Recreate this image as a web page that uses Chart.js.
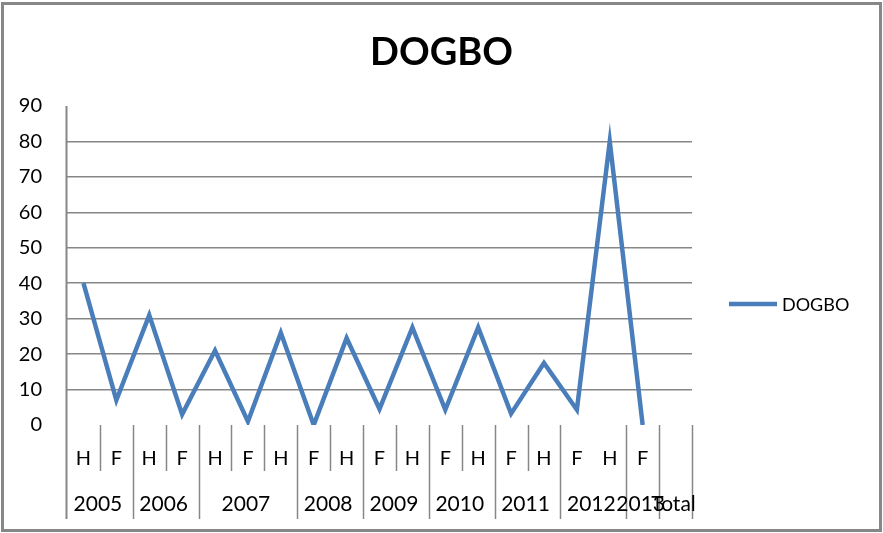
<!DOCTYPE html>
<html><head><meta charset="utf-8">
<script src="https://cdn.jsdelivr.net/npm/chart.js@4/dist/chart.umd.min.js"></script>
<style>html,body{margin:0;padding:0;background:#fff}#wrap{width:883px;height:533px}</style>
</head><body><div id="wrap"><canvas id="c" width="883" height="533"></canvas></div>
<script>
const chartTitle = 'DOGBO';
const seriesName = 'DOGBO';
const halfLabels = ['H','F','H','F','H','F','H','F','H','F','H','F','H','F','H','F','H','F',''];
const values = [40,7,31,3,21,1,26,0,24.5,4.5,27.5,4.3,27.5,3.2,17.5,4.3,80,0,null];
const yearLabels = ['2005','2006','2007','2008','2009','2010','2011','2012','2013','Total'];
const yearSpans = [2,2,3,2,2,2,2,2,1,1];
const yMin = 0, yMax = 90, yStep = 10;

const GREY = '#878787';
const BLUE = '#4A7EBB';
const FONT = 'Lato, "Liberation Sans", Arial, sans-serif';

const decor = {
  id: 'decor',
  afterDraw(chart) {
    const ctx = chart.ctx;
    const xs = chart.scales.x, ys = chart.scales.y;
    const ca = chart.chartArea;
    const half = (xs.getPixelForValue(1) - xs.getPixelForValue(0)) / 2;
    const b = i => xs.getPixelForValue(i) - half; // left boundary of category i
    const rowSplit = 471, bottomY = 519;
    ctx.save();
    // outer border
    ctx.strokeStyle = GREY; ctx.lineWidth = 3;
    ctx.strokeRect(2.5, 3.5, 878, 527);
    // y axis line extended through label rows
    ctx.lineWidth = 2;
    ctx.beginPath(); ctx.moveTo(Math.round(ca.left)-0.5 , ys.getPixelForValue(yMax)); ctx.lineTo(Math.round(ca.left)-0.5, bottomY); ctx.stroke();
    // year group boundaries
    const groupStarts = new Set();
    let acc = 0;
    yearSpans.forEach(s => { acc += s; groupStarts.add(acc); });
    ctx.lineWidth = 1.5;
    for (let i = 1; i <= halfLabels.length; i++) {
      const x = Math.round(b(i)) + 0.5;
      if (groupStarts.has(i)) {
        ctx.beginPath(); ctx.moveTo(x, ca.bottom); ctx.lineTo(x, bottomY); ctx.stroke();
      } else if (i !== 16) {
        ctx.beginPath(); ctx.moveTo(x, ca.bottom); ctx.lineTo(x, rowSplit); ctx.stroke();
      }
    }
    // year labels
    ctx.fillStyle = '#000';
    ctx.font = '21px ' + FONT;
    ctx.textAlign = 'center'; ctx.textBaseline = 'middle';
    let start = 0;
    yearLabels.forEach((lab, k) => {
      const end = start + yearSpans[k];
      const cx = (b(start) + b(end)) / 2 - 2;
      ctx.fillText(lab, cx, 504);
      start = end;
    });
    // title
    ctx.font = 'bold 38px ' + FONT;
    ctx.fillText(chartTitle, 441.5, 53);
    // legend
    const ds = chart.data.datasets[0];
    ctx.strokeStyle = ds.borderColor; ctx.lineWidth = 4.5;
    ctx.beginPath(); ctx.moveTo(729, 304); ctx.lineTo(777, 304); ctx.stroke();
    ctx.font = '18px ' + FONT; ctx.textAlign = 'left';
    ctx.fillText(ds.label, 782, 305);
    ctx.restore();
  }
};

new Chart(document.getElementById('c'), {
  type: 'line',
  data: {
    labels: halfLabels,
    datasets: [{
      label: seriesName,
      data: values,
      borderColor: BLUE,
      backgroundColor: BLUE,
      borderWidth: 4.5,
      tension: 0,
      pointRadius: 0,
      fill: false,
      spanGaps: false
    }]
  },
  options: {
    responsive: false,
    animation: false,
    devicePixelRatio: 1,
    layout: { padding: { left: 7, right: 191, top: 106, bottom: 8 } },
    plugins: { legend: { display: false }, title: { display: false }, tooltip: { enabled: false } },
    scales: {
      x: {
        type: 'category',
        offset: true,
        grid: { display: false, drawTicks: false },
        border: { display: false },
        ticks: { color: '#000', font: { family: FONT, size: 20 }, padding: 22, maxRotation: 0, autoSkip: false },
        afterFit: s => { s.height = 100; }
      },
      y: {
        min: yMin, max: yMax,
        grid: {
          drawTicks: false,
          color: c => (c.tick && (c.tick.value === yMin || c.tick.value === yMax)) ? 'rgba(0,0,0,0)' : GREY,
          lineWidth: 1.5
        },
        border: { display: false },
        ticks: { stepSize: yStep, color: '#000', font: { family: FONT, size: 20 }, padding: 25 },
        afterFit: s => { s.width = 60; }
      }
    }
  },
  plugins: [decor]
});
</script>
</body></html>
